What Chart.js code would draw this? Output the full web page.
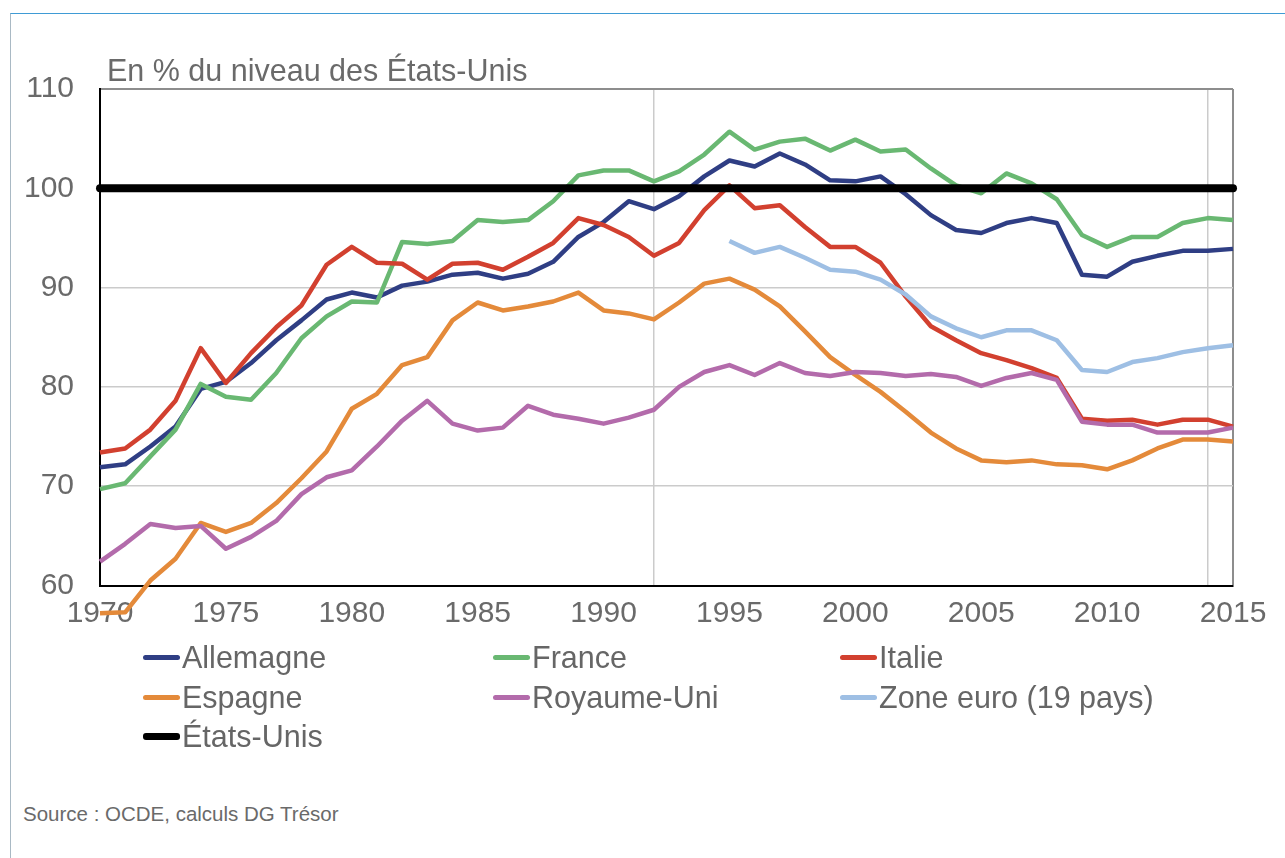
<!DOCTYPE html>
<html lang="fr">
<head>
<meta charset="utf-8">
<title>En % du niveau des États-Unis</title>
<script src="https://cdn.jsdelivr.net/npm/chart.js@4.4.1/dist/chart.umd.min.js"></script>
<style>
  html, body { margin: 0; padding: 0; background: #fff; }
  body { width: 1285px; height: 858px; position: relative; overflow: hidden;
         font-family: "Liberation Sans", Arial, sans-serif; color: #6a6a6a; }
  #frame { position: absolute; left: 10px; top: 13px; right: 0; bottom: 0;
           border-top: 1.5px solid #3f9bd5; border-left: 1px solid #a9b9c4; }
  #wrap { position: absolute; left: 0; top: 0; width: 1285px; height: 640px; }
  #unit { position: absolute; left: 107px; top: 53px; font-size: 30.5px; color: #6a6a6a; }
  #legend { position: absolute; left: 143px; top: 638px; display: grid;
            grid-template-columns: 350px 347px 420px; }
  .item { display: flex; align-items: center; height: 39.5px; font-size: 30.5px; color: #666; }
  .item .mark { width: 37px; height: 5px; border-radius: 3px; margin-right: 2px; }
  #source { position: absolute; left: 23px; top: 802px; font-size: 20.5px; color: #6a6a6a; }
</style>
</head>
<body>
<div id="frame"></div>
<div id="wrap"><canvas id="myChart"></canvas></div>
<div id="unit">En % du niveau des États-Unis</div>
<div id="legend"></div>
<div id="source">Source : OCDE, calculs DG Trésor</div>

<script>
// years on the x axis
var years = ["1970", "1971", "1972", "1973", "1974", "1975", "1976", "1977", "1978", "1979",
    "1980", "1981", "1982", "1983", "1984", "1985", "1986", "1987", "1988", "1989",
    "1990", "1991", "1992", "1993", "1994", "1995", "1996", "1997", "1998", "1999",
    "2000", "2001", "2002", "2003", "2004", "2005", "2006", "2007", "2008", "2009",
    "2010", "2011", "2012", "2013", "2014", "2015"];

var allemagne = [71.9, 72.2, 74.0, 76.0, 79.8, 80.5, 82.4, 84.7, 86.7, 88.8,
    89.5, 89.0, 90.2, 90.6, 91.3, 91.5, 90.9, 91.4, 92.6, 95.1,
    96.6, 98.7, 97.9, 99.2, 101.2, 102.8, 102.2, 103.5, 102.4, 100.8,
    100.7, 101.2, 99.4, 97.3, 95.8, 95.5, 96.5, 97.0, 96.5, 91.3,
    91.1, 92.6, 93.2, 93.7, 93.7, 93.9];

var france = [69.7, 70.3, 73.0, 75.7, 80.3, 79.0, 78.7, 81.4, 84.9, 87.1,
    88.6, 88.5, 94.6, 94.4, 94.7, 96.8, 96.6, 96.8, 98.7, 101.3,
    101.8, 101.8, 100.7, 101.7, 103.4, 105.7, 103.9, 104.7, 105.0, 103.8,
    104.9, 103.7, 103.9, 102.0, 100.3, 99.5, 101.5, 100.5, 98.9, 95.3,
    94.1, 95.1, 95.1, 96.5, 97.0, 96.8];

var italie = [73.4, 73.8, 75.7, 78.6, 83.9, 80.4, 83.4, 86.0, 88.2, 92.3,
    94.1, 92.5, 92.4, 90.8, 92.4, 92.5, 91.8, 93.1, 94.5, 97.0,
    96.3, 95.1, 93.2, 94.5, 97.8, 100.3, 98.0, 98.3, 96.1, 94.1,
    94.1, 92.5, 89.1, 86.1, 84.7, 83.4, 82.7, 81.9, 80.9, 76.8,
    76.6, 76.7, 76.2, 76.7, 76.7, 76.0];

var espagne = [57.2, 57.3, 60.5, 62.7, 66.3, 65.4, 66.3, 68.3, 70.8, 73.5,
    77.8, 79.3, 82.2, 83.0, 86.7, 88.5, 87.7, 88.1, 88.6, 89.5,
    87.7, 87.4, 86.8, 88.5, 90.4, 90.9, 89.8, 88.1, 85.6, 83.0,
    81.2, 79.5, 77.5, 75.4, 73.8, 72.6, 72.4, 72.6, 72.2, 72.1,
    71.7, 72.6, 73.8, 74.7, 74.7, 74.5];

var royaumeUni = [62.4, 64.2, 66.2, 65.8, 66.0, 63.7, 64.9, 66.5, 69.2, 70.9,
    71.6, 74.0, 76.6, 78.6, 76.3, 75.6, 75.9, 78.1, 77.2, 76.8,
    76.3, 76.9, 77.7, 80.0, 81.5, 82.2, 81.2, 82.4, 81.4, 81.1,
    81.5, 81.4, 81.1, 81.3, 81.0, 80.1, 80.9, 81.4, 80.7, 76.5,
    76.2, 76.2, 75.4, 75.4, 75.4, 75.9];

var zoneEuro = [null, null, null, null, null, null, null, null, null, null,
    null, null, null, null, null, null, null, null, null, null,
    null, null, null, null, null, 94.7, 93.5, 94.1, 93.0, 91.8,
    91.6, 90.8, 89.3, 87.1, 85.9, 85.0, 85.7, 85.7, 84.7, 81.7,
    81.5, 82.5, 82.9, 83.5, 83.9, 84.2];

var etatsUnis = [100, 100, 100, 100, 100, 100, 100, 100, 100, 100,
    100, 100, 100, 100, 100, 100, 100, 100, 100, 100,
    100, 100, 100, 100, 100, 100, 100, 100, 100, 100,
    100, 100, 100, 100, 100, 100, 100, 100, 100, 100,
    100, 100, 100, 100, 100, 100];

var yTicks = [60, 70, 80, 90, 100, 110];

var seriesNames = ["Allemagne", "France", "Italie", "Espagne", "Royaume-Uni", "Zone euro (19 pays)", "États-Unis"];
var seriesData = [allemagne, france, italie, espagne, royaumeUni, zoneEuro, etatsUnis];
var seriesColors = ["#2f3e84", "#69b872", "#d2402f", "#e48a3a", "#b36bab", "#9ebfe4", "#000000"];

var datasets = [];
for (let i = 0; i < seriesNames.length; i++) {
    datasets.push({
        label: seriesNames[i],
        data: seriesData[i],
        borderColor: seriesColors[i],
        backgroundColor: seriesColors[i],
        borderWidth: i === 6 ? 8 : 4.5,
        borderCapStyle: i === 6 ? "round" : "butt",
        borderJoinStyle: "round",
        pointRadius: 0,
        tension: 0,
        spanGaps: false,
        clip: false,
        order: -i   // later series on top, like the original
    });
}

var gridGray = "#cbcbcb";

new Chart("myChart", {
    type: "line",
    data: { labels: years, datasets: datasets },
    options: {
        responsive: true,
        maintainAspectRatio: false,
        animation: false,
        layout: { padding: { top: 89, right: 52, left: 0, bottom: 0 } },
        plugins: {
            legend: { display: false },
            tooltip: { enabled: false },
            title: { display: false }
        },
        scales: {
            x: {
                type: "category",
                offset: false,
                afterFit: (scale) => { scale.height = 54.5; },
                border: { display: true, color: "#000", width: 2 },
                grid: {
                    drawTicks: false,
                    color: (ctx) => {
                        if (ctx.index === 45) return "#8d8d8d";
                        if (ctx.index === 22 || ctx.index === 44) return gridGray;
                        return "rgba(0,0,0,0)";
                    },
                    lineWidth: (ctx) => ctx.index === 45 ? 2 : 1.5
                },
                ticks: {
                    autoSkip: false,
                    maxRotation: 0,
                    padding: 10,
                    color: "#6a6a6a",
                    font: { family: "Liberation Sans", size: 30 },
                    callback: function (value, index) {
                        var lab = years[index];
                        return Number(lab) % 5 === 0 ? lab : "";
                    }
                }
            },
            y: {
                min: yTicks[0],
                max: yTicks[yTicks.length - 1],
                afterFit: (scale) => { scale.width = 100; },
                afterBuildTicks: (scale) => { scale.ticks = yTicks.map(v => ({ value: v })); },
                border: { display: true, color: "#000", width: 2 },
                grid: {
                    drawTicks: false,
                    color: (ctx) => ctx.tick && ctx.tick.value === 110 ? "#8d8d8d" : gridGray,
                    lineWidth: (ctx) => ctx.tick && ctx.tick.value === 110 ? 2 : 1.5
                },
                ticks: {
                    padding: 26,
                    color: "#6a6a6a",
                    font: { family: "Liberation Sans", size: 30 }
                }
            }
        }
    }
});

// legend in three columns, like the original
var legendBox = document.getElementById("legend");
seriesNames.forEach((name, index) => {
    const div = document.createElement("div");
    div.className = "item";
    const mark = document.createElement("span");
    mark.className = "mark";
    mark.style.background = seriesColors[index];
    if (index === 6) mark.style.height = "7px";
    div.appendChild(mark);
    div.appendChild(document.createTextNode(name));
    legendBox.appendChild(div);
});
</script>
</body>
</html>
